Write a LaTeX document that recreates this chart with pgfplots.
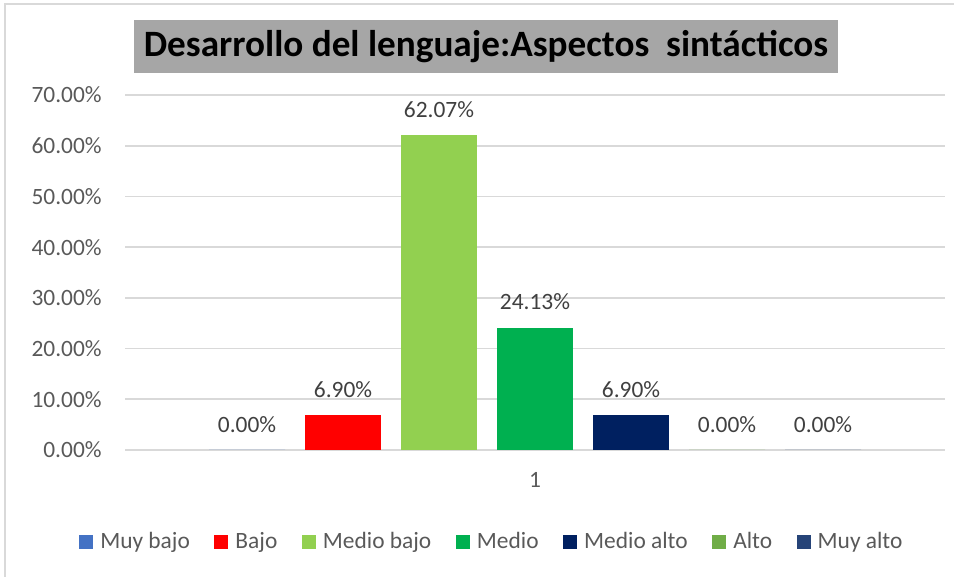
\documentclass[border=0pt]{standalone}
\usepackage{fontspec}
\setmainfont{Carlito}
\usepackage{pgfplots}
\pgfplotsset{compat=1.18}
\definecolor{cMuyBajo}{HTML}{4472C4}
\definecolor{cBajo}{HTML}{FF0000}
\definecolor{cMedioBajo}{HTML}{92D050}
\definecolor{cMedio}{HTML}{00B050}
\definecolor{cMedioAlto}{HTML}{002060}
\definecolor{cAlto}{HTML}{70AD47}
\definecolor{cMuyAlto}{HTML}{264478}
\definecolor{bordergray}{HTML}{D9D9D9}
\definecolor{gridgray}{HTML}{D9D9D9}
\definecolor{titlegray}{HTML}{A6A6A6}
\definecolor{ticktext}{HTML}{595959}
\definecolor{labeltext}{HTML}{404040}
\begin{document}
\begin{tikzpicture}[x=0.5pt,y=0.5pt]
\useasboundingbox (0,0) rectangle (954,577);
\draw[color=bordergray, line width=1pt] (5,0) -- (5,573) -- (954,573);
\node[fill=titlegray, minimum width=352pt, minimum height=26.5pt, inner sep=0pt,
      font=\fontsize{18.6}{20}\selectfont\bfseries, text=black] at (486,530.5)
      {Desarrollo del lenguaje:Aspectos\ \ sintácticos};
\begin{axis}[
  at={(62.5pt,63.5pt)}, anchor=south west,
  scale only axis, width=410pt, height=177.5pt,
  xmin=0.5, xmax=1.5, ymin=0, ymax=70,
  ybar=10pt, bar width=38pt,
  xtick={1}, xticklabels={1},
  ytick={0,10,20,30,40,50,60,70},
  yticklabel={\pgfmathprintnumber[fixed,fixed zerofill,precision=2]{\tick}\%},
  /pgf/number format/assume math mode=true,
  ymajorgrids, grid style={color=gridgray, line width=0.8pt},
  axis line style={draw=none},
  major tick length=0pt,
  tick label style={font=\fontsize{11.7}{13}\selectfont, text=ticktext},
  yticklabel style={anchor=east, inner sep=0pt, xshift=-11.5pt},
  xticklabel style={anchor=center, inner sep=0pt, yshift=-15pt},
  nodes near coords={\pgfmathprintnumber[fixed,fixed zerofill,precision=2]{\pgfplotspointmeta}\%},
  nodes near coords style={font=\fontsize{11.7}{13}\selectfont, text=labeltext, anchor=center, yshift=12.8pt},
  every axis plot/.append style={draw=none},
  legend image code/.code={\path[#1] (0pt,-3.5pt) rectangle (7pt,3.5pt); \path (9pt,0pt);},
  legend columns=7,
  legend style={draw=none, fill=none, at={(0.448,-0.259)}, anchor=center,
    font=\fontsize{11.7}{13}\selectfont, text=ticktext,
    nodes={inner sep=1.6pt},
    /tikz/every even column/.append style={column sep=10.6pt}},
]
\addplot[fill=cMuyBajo] coordinates {(1,0)};
\addplot[fill=cBajo] coordinates {(1,6.90)};
\addplot[fill=cMedioBajo] coordinates {(1,62.07)};
\addplot[fill=cMedio] coordinates {(1,24.13)};
\addplot[fill=cMedioAlto] coordinates {(1,6.90)};
\addplot[fill=cAlto] coordinates {(1,0)};
\addplot[fill=cMuyAlto] coordinates {(1,0)};
\legend{Muy bajo,Bajo,Medio bajo,Medio,Medio alto,Alto,Muy alto}
\end{axis}
\end{tikzpicture}
\end{document}
